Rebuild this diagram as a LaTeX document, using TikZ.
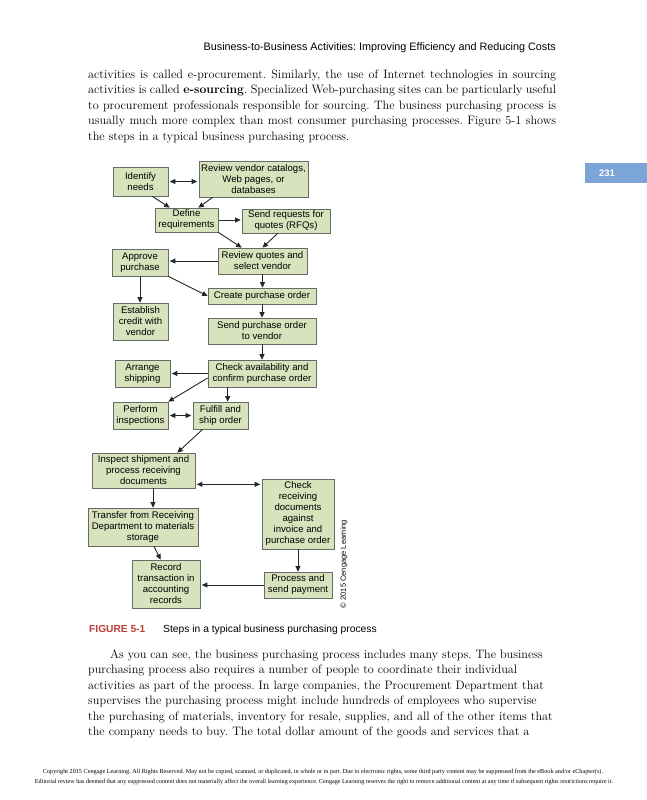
\documentclass[tikz,border=0pt]{standalone}
\usepackage{fontspec}
\usepackage{graphicx}
\newfontfamily\arial{Liberation Sans}
\newfontfamily\tnr{Liberation Serif}
\usetikzlibrary{arrows.meta,calc}
\definecolor{boxfill}{RGB}{214,227,188}
\definecolor{boxline}{RGB}{105,105,105}
\definecolor{figred}{RGB}{188,62,52}
\definecolor{pgblue}{RGB}{123,165,214}
\frenchspacing
\tikzset{
  bx/.style={draw=boxline, line width=0.7pt, fill=boxfill, inner sep=0pt, align=center,
    font=\arial\fontsize{9.6}{11}\selectfont},
  arr/.style={draw=black!85, line width=0.9pt, -{Triangle[length=5.5pt,width=5pt]}},
  darr/.style={draw=black!85, line width=0.9pt, {Triangle[length=5.5pt,width=5pt]}-{Triangle[length=5.5pt,width=5pt]}},
  bodyline/.style={anchor=base west, inner sep=0pt, font=\fontsize{12.2}{14}\selectfont},
  sanslbl/.style={inner sep=0pt, font=\arial\fontsize{10.3}{12}\selectfont},
}
\begin{document}
\begin{tikzpicture}[x=1pt,y=-1pt]
\useasboundingbox (0,0) rectangle (647,800);
\fill[white] (0,0) rectangle (647,800);

% running head
\node[anchor=base east, inner sep=0pt, font=\arial\fontsize{10.8}{12}\selectfont] (head) at (556,51)
  {Business-to-Business Activities: Improving Efficiency and Reducing Costs};

% top paragraph
\node[bodyline] (t1) at (88,78) {\makebox[468pt][s]{activities is called e-procurement. Similarly, the use of Internet technologies in sourcing}};
\node[bodyline] (t2) at (88,93.5) {\makebox[468pt][s]{activities is called \textbf{e-sourcing}. Specialized Web-purchasing sites can be particularly useful}};
\node[bodyline] (t3) at (88,109) {\makebox[468pt][s]{to procurement professionals responsible for sourcing. The business purchasing process is}};
\node[bodyline] (t4) at (88,124.5) {\makebox[468pt][s]{usually much more complex than most consumer purchasing processes. Figure 5-1 shows}};
\node[bodyline] (t5) at (88,140) {the steps in a typical business purchasing process.};

% page number tab
\fill[pgblue] (585,163) rectangle (647,183);
\node[inner sep=0pt, text=white, font=\arial\bfseries\fontsize{9.5}{10}\selectfont] (pg) at (607,173) {231};

% boxes
\node[bx, minimum width=55pt, minimum height=29pt] (idn) at (140.5,181.5) {Identify\\needs};
\node[bx, minimum width=109pt, minimum height=36pt] (rvc) at (253.5,179) {Review vendor catalogs,\\Web pages, or\\databases};
\node[bx, minimum width=63pt, minimum height=24pt] (def) at (186.5,220) {Define\\requirements};
\node[bx, minimum width=88pt, minimum height=24pt] (rfq) at (286,221) {Send requests for\\quotes (RFQs)};
\node[bx, minimum width=56pt, minimum height=27pt] (app) at (140,262.5) {Approve\\purchase};
\node[bx, minimum width=89pt, minimum height=26pt] (rqs) at (262.5,261) {Review quotes and\\select vendor};
\node[bx, minimum width=108pt, minimum height=16pt] (cpo) at (262,296) {Create purchase order};
\node[bx, minimum width=55pt, minimum height=37pt] (est) at (140.5,321.5) {Establish\\credit with\\vendor};
\node[bx, minimum width=108pt, minimum height=26pt] (spo) at (262,331) {Send purchase order\\to vendor};
\node[bx, minimum width=55pt, minimum height=27pt] (arr) at (142.5,373.5) {Arrange\\shipping};
\node[bx, minimum width=108pt, minimum height=27pt] (chk) at (262,373.5) {Check availability and\\confirm purchase order};
\node[bx, minimum width=55pt, minimum height=27pt] (per) at (140.5,415.5) {Perform\\inspections};
\node[bx, minimum width=55pt, minimum height=27pt] (ful) at (220.5,415.5) {Fulfill and\\ship order};
\node[bx, minimum width=103pt, minimum height=35pt] (ins) at (143.5,470.5) {Inspect shipment and\\process receiving\\documents};
\node[bx, minimum width=72pt, minimum height=70pt] (crd) at (298,514) {Check\\receiving\\documents\\against\\invoice and\\purchase order};
\node[bx, minimum width=110pt, minimum height=38pt] (trf) at (143,527) {Transfer from Receiving\\Department to materials\\storage};
\node[bx, minimum width=68pt, minimum height=48pt] (rec) at (166,584) {Record\\transaction in\\accounting\\records};
\node[bx, minimum width=68pt, minimum height=26pt] (pay) at (298,585) {Process and\\send payment};

% connectors
\draw[darr, shorten <=1.5pt, shorten >=1.5pt] (idn.east) -- (idn.east -| rvc.west);
\draw[arr] ($(idn.south east)+(-16,0)$) -- ($(def.north west)+(15,0)$);
\draw[arr] ($(rvc.south west)+(14,0)$) -- ($(def.north east)+(-20,0)$);
\draw[arr, shorten <=1pt, shorten >=1pt] (def.east) -- (def.east -| rfq.west);
\draw[arr] (def.south east) -- ($(rqs.north west)+(24,0)$);
\draw[arr] ($(rfq.south west)+(36,0)$) -- (rqs.north);
\draw[arr, shorten >=1.5pt] (rqs.west) -- (rqs.west -| app.east);
\draw[arr] (rqs.south) -- (rqs.south |- cpo.north);
\draw[arr] (app.south east) -- (cpo.west);
\draw[arr] (app.south) -- (app.south |- est.north);
\draw[arr] (cpo.south) -- (spo.north);
\draw[arr] (spo.south) -- (chk.north);
\draw[arr, shorten >=1.5pt] (chk.west) -- (chk.west -| arr.east);
\draw[arr] ($(chk.west)+(0,4.5)$) -- (per.north east);
\draw[arr] ($(chk.south west)+(20,0)$) -- ($(ful.north west)+(35,0)$);
\draw[darr, shorten <=1.5pt, shorten >=1.5pt] (per.east) -- (ful.west);
\draw[arr] ($(ful.south west)+(10,0)$) -- ($(ins.north east)+(-18,0)$);
\coordinate (insR) at ($(ins.south east)+(0,-4)$);
\draw[darr, shorten <=1.5pt, shorten >=1.5pt] (insR) -- (insR -| crd.west);
\coordinate (insB) at ($(ins.south)+(9.5,0)$);
\draw[arr] (insB) -- (insB |- trf.north);
\draw[arr] ($(trf.south)+(11,0)$) -- ($(rec.north west)+(29,0)$);
\draw[arr] (crd.south) -- (pay.north);
\draw[arr, shorten >=1.5pt] (pay.west) -- (pay.west -| rec.east);

% credit line
\node[rotate=90, inner sep=0pt, font=\arial\fontsize{7.5}{9}\selectfont] (cred) at (344,564) {© 2015 Cengage Learning};

% caption
\node[anchor=base west, sanslbl, text=figred, font=\arial\bfseries\fontsize{10.2}{12}\selectfont] (figno) at (89,632) {FIGURE 5-1};
\node[anchor=base west, sanslbl] (figcap) at (163,632) {Steps in a typical business purchasing process};

% bottom paragraph
\node[bodyline] (b1) at (110,658) {As you can see, the business purchasing process includes many steps. The business};
\node[bodyline] (b2) at (88,673.5) {purchasing process also requires a number of people to coordinate their individual};
\node[bodyline] (b3) at (88,689) {activities as part of the process. In large companies, the Procurement Department that};
\node[bodyline] (b4) at (88,704.5) {supervises the purchasing process might include hundreds of employees who supervise};
\node[bodyline] (b5) at (88,720) {the purchasing of materials, inventory for resale, supplies, and all of the other items that};
\node[bodyline] (b6) at (88,735.5) {the company needs to buy. The total dollar amount of the goods and services that a};

% footer
\node[inner sep=0pt] (f1) at (323,772) {\resizebox{560pt}{!}{\tnr\fontsize{6.5}{7}\selectfont Copyright 2015 Cengage Learning. All Rights Reserved. May not be copied, scanned, or duplicated, in whole or in part. Due to electronic rights, some third party content may be suppressed from the eBook and/or eChapter(s).}};
\node[inner sep=0pt] (f2) at (324,782) {\resizebox{578pt}{!}{\tnr\fontsize{6.5}{7}\selectfont Editorial review has deemed that any suppressed content does not materially affect the overall learning experience. Cengage Learning reserves the right to remove additional content at any time if subsequent rights restrictions require it.}};
\end{tikzpicture}
\end{document}
